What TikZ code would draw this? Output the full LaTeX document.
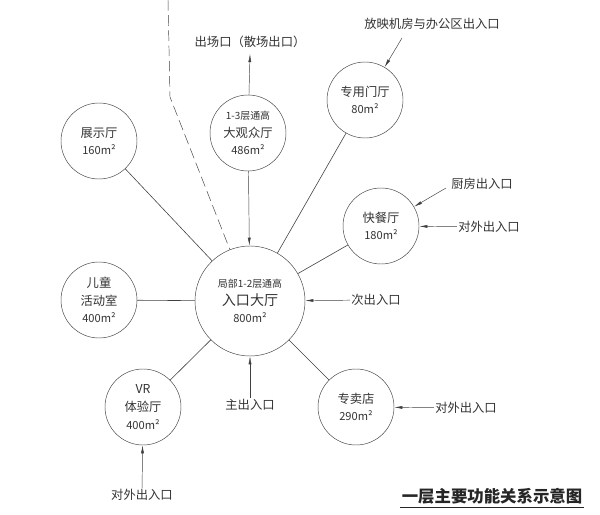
\documentclass[tikz,border=0pt]{standalone}
\usepackage{fontspec}
\setmainfont{Noto Sans CJK SC}
\usetikzlibrary{arrows.meta}

\tikzset{
  room/.style={draw=black!75, circle, minimum size=2.28cm, inner sep=0pt, align=center,
    text=black!80, font=\fontsize{10.5}{15}\selectfont},
  hall/.style={room, minimum size=3.3cm},
  gate/.style={text=black!80, inner sep=1pt, font=\fontsize{10.5}{12}\selectfont},
  arr/.style={draw=black!75, -{Latex[length=7pt,width=2.6pt]}},
  link/.style={draw=black!75, line width=0.5pt},
}
\newcommand{\floors}[1]{{\fontsize{8.5}{10}\selectfont #1}}
\newcommand{\area}[1]{{\fontsize{9.5}{12}\selectfont #1m²}}

\begin{document}
\begin{tikzpicture}[x=0.03cm, y=-0.03cm]
    \useasboundingbox (0,0) rectangle (600,515);

    %Rooms
    \node[hall] at (250,301) (c)   {\floors{局部1-2层通高}\\ {\fontsize{12}{15}\selectfont 入口大厅}\\ \area{800}};
    \node[room] at (248,133) (gdt) {\floors{1-3层通高}\\ 大观众厅\\ \area{486}};
    \node[room] at (365,100) (zy)  {专用门厅\\ \area{80}};
    \node[room] at (381,226) (kc)  {快餐厅\\ \area{180}};
    \node[room] at (99,141)  (zs)  {展示厅\\ \area{160}};
    \node[room] at (99,300)  (et)  {儿童\\ 活动室\\ \area{400}};
    \node[room] at (143,407) (vr)  {VR\\ 体验厅\\ \area{400}};
    \node[room] at (356,407) (zm)  {专卖店\\ \area{290}};

    %Entrances
    \node[gate] at (250,42)  (sc)   {出场口（散场出口）};
    \node[gate] at (432,24)  (fy)   {放映机房与办公区出入口};
    \node[gate] at (482,184) (cf)   {厨房出入口};
    \node[gate] at (489,227) (kcw)  {对外出入口};
    \node[gate] at (376,300) (cc)   {次出入口};
    \node[gate] at (250,405) (zc)   {主出入口};
    \node[gate] at (142,495) (vrw)  {对外出入口};
    \node[gate] at (466,408) (zmw)  {对外出入口};
    \coordinate (fyc) at (402,38);
    \coordinate (cfc) at (446,188);

    %Title
    \node[text=black!85, font=\bfseries\fontsize{14}{16}\selectfont, inner sep=1pt] at (492,496) (title) {一层主要功能关系示意图};
    \draw[black!85, line width=0.8pt] ([yshift=-2pt]title.south west) -- ([yshift=-2pt]title.south east);

    %Lines
    \draw[link] (zs) -- (c);
    \draw[link] (et) -- (c);
    \draw[link] (vr) -- (c);
    \draw[link] (zm) -- (c);
    \draw[link] (zy) -- (c);
    \draw[link] (kc) -- (c);
    \draw[arr] (gdt) -- (c);

    %Arrows
    \draw[arr] (gdt) -- ([yshift=-4pt]sc.south);
    \draw[arr] (fyc) -- (zy);
    \draw[arr] (cfc) -- (kc);
    \draw[arr] (kcw) -- (kc);
    \draw[arr] (cc) -- (c);
    \draw[arr] (zc) -- (c);
    \draw[arr] (vrw) -- (vr);
    \draw[arr] (zmw) -- (zm);

    %Boundary
    \coordinate (d0) at (168,0);
    \coordinate (d1) at (170,97);
    \draw[black!75, dash pattern=on 9pt off 4pt] (d0) -- (d1) -- (c);
\end{tikzpicture}
\end{document}
